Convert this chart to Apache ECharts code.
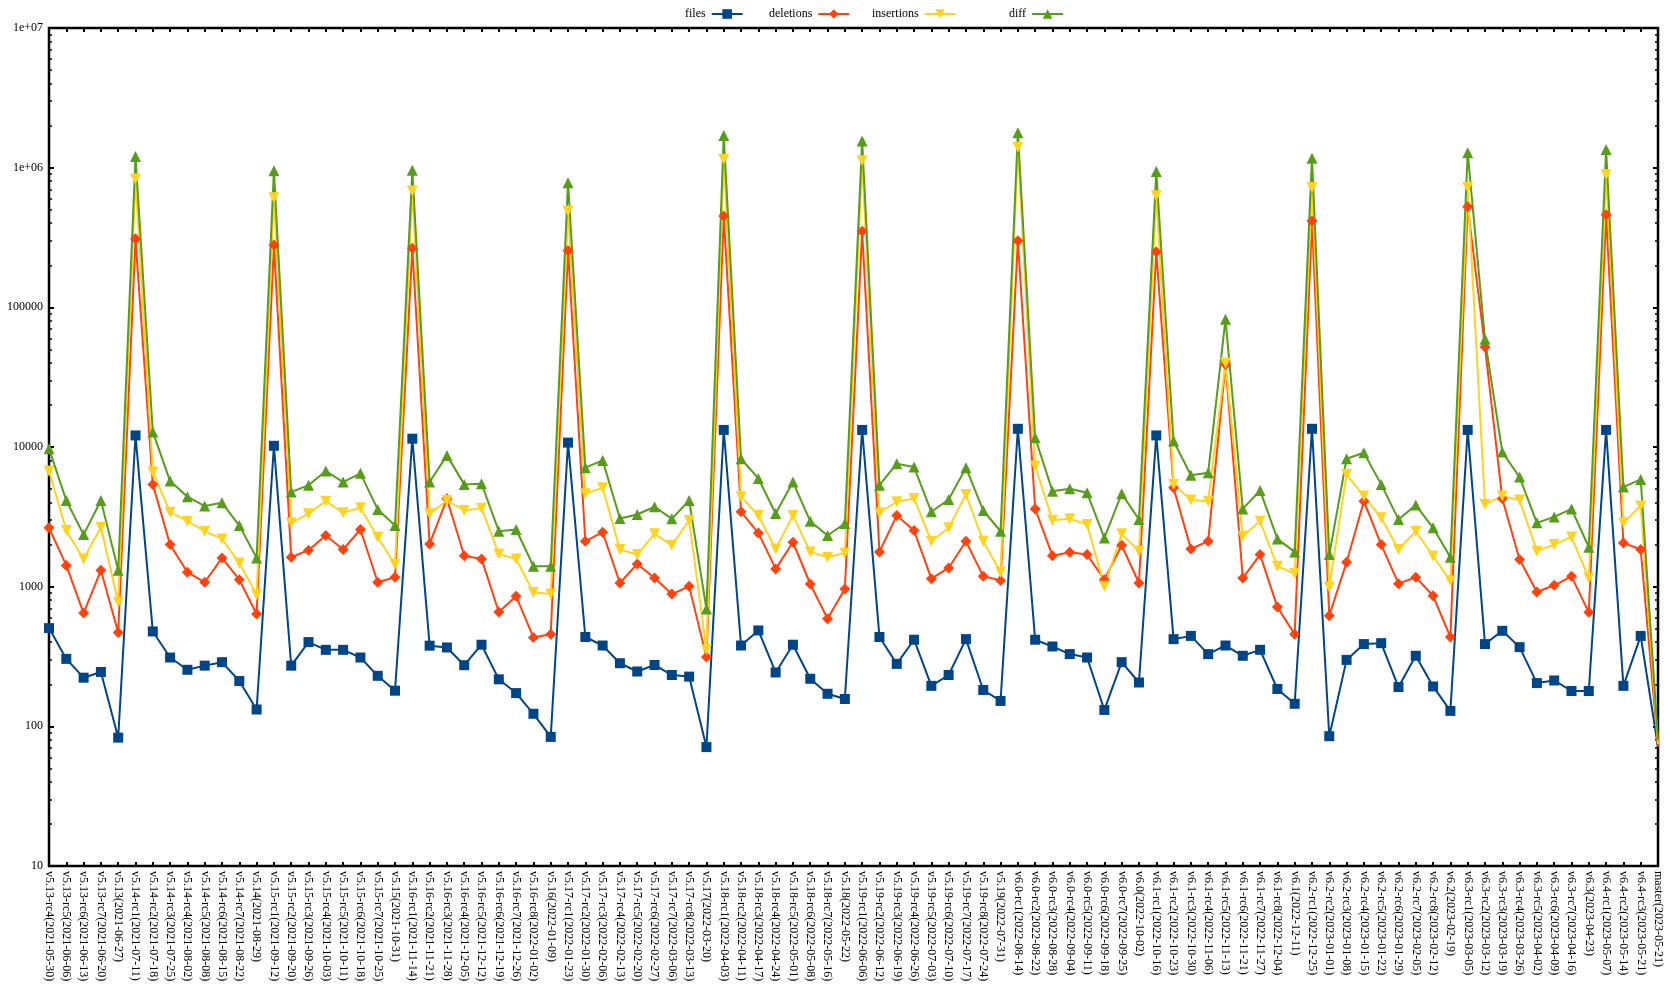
<!DOCTYPE html>
<html>
<head>
<meta charset="utf-8">
<script src="https://cdn.jsdelivr.net/npm/echarts@6/dist/echarts.min.js"></script>
<style>html,body{margin:0;padding:0;background:#fff;}#c{width:1670px;height:994px;}</style>
</head>
<body>
<div id="c"></div>
<script>
const categories = [
"v5.13-rc4(2021-05-30)","v5.13-rc5(2021-06-06)","v5.13-rc6(2021-06-13)","v5.13-rc7(2021-06-20)","v5.13(2021-06-27)",
"v5.14-rc1(2021-07-11)","v5.14-rc2(2021-07-18)","v5.14-rc3(2021-07-25)","v5.14-rc4(2021-08-02)","v5.14-rc5(2021-08-08)",
"v5.14-rc6(2021-08-15)","v5.14-rc7(2021-08-22)","v5.14(2021-08-29)","v5.15-rc1(2021-09-12)","v5.15-rc2(2021-09-20)",
"v5.15-rc3(2021-09-26)","v5.15-rc4(2021-10-03)","v5.15-rc5(2021-10-11)","v5.15-rc6(2021-10-18)","v5.15-rc7(2021-10-25)",
"v5.15(2021-10-31)","v5.16-rc1(2021-11-14)","v5.16-rc2(2021-11-21)","v5.16-rc3(2021-11-28)","v5.16-rc4(2021-12-05)",
"v5.16-rc5(2021-12-12)","v5.16-rc6(2021-12-19)","v5.16-rc7(2021-12-26)","v5.16-rc8(2022-01-02)","v5.16(2022-01-09)",
"v5.17-rc1(2022-01-23)","v5.17-rc2(2022-01-30)","v5.17-rc3(2022-02-06)","v5.17-rc4(2022-02-13)","v5.17-rc5(2022-02-20)",
"v5.17-rc6(2022-02-27)","v5.17-rc7(2022-03-06)","v5.17-rc8(2022-03-13)","v5.17(2022-03-20)","v5.18-rc1(2022-04-03)",
"v5.18-rc2(2022-04-11)","v5.18-rc3(2022-04-17)","v5.18-rc4(2022-04-24)","v5.18-rc5(2022-05-01)","v5.18-rc6(2022-05-08)",
"v5.18-rc7(2022-05-16)","v5.18(2022-05-22)","v5.19-rc1(2022-06-06)","v5.19-rc2(2022-06-12)","v5.19-rc3(2022-06-19)",
"v5.19-rc4(2022-06-26)","v5.19-rc5(2022-07-03)","v5.19-rc6(2022-07-10)","v5.19-rc7(2022-07-17)","v5.19-rc8(2022-07-24)",
"v5.19(2022-07-31)","v6.0-rc1(2022-08-14)","v6.0-rc2(2022-08-22)","v6.0-rc3(2022-08-28)","v6.0-rc4(2022-09-04)",
"v6.0-rc5(2022-09-11)","v6.0-rc6(2022-09-18)","v6.0-rc7(2022-09-25)","v6.0(2022-10-02)","v6.1-rc1(2022-10-16)",
"v6.1-rc2(2022-10-23)","v6.1-rc3(2022-10-30)","v6.1-rc4(2022-11-06)","v6.1-rc5(2022-11-13)","v6.1-rc6(2022-11-21)",
"v6.1-rc7(2022-11-27)","v6.1-rc8(2022-12-04)","v6.1(2022-12-11)","v6.2-rc1(2022-12-25)","v6.2-rc2(2023-01-01)",
"v6.2-rc3(2023-01-08)","v6.2-rc4(2023-01-15)","v6.2-rc5(2023-01-22)","v6.2-rc6(2023-01-29)","v6.2-rc7(2023-02-05)",
"v6.2-rc8(2023-02-12)","v6.2(2023-02-19)","v6.3-rc1(2023-03-05)","v6.3-rc2(2023-03-12)","v6.3-rc3(2023-03-19)",
"v6.3-rc4(2023-03-26)","v6.3-rc5(2023-04-02)","v6.3-rc6(2023-04-09)","v6.3-rc7(2023-04-16)","v6.3(2023-04-23)",
"v6.4-rc1(2023-05-07)","v6.4-rc2(2023-05-14)","v6.4-rc3(2023-05-21)","master(2023-05-21)"
];

const files = [505,304,223,245,83,12100,478,311,254,272,288,211,132,10200,272,401,353,353,311,230,
180,11470,378,367,274,384,217,173,123,84,10750,436,379,283,247,275,233,227,71,13250,
379,486,243,384,219,171,157,13250,436,280,417,195,233,421,182,152,13500,417,373,329,
311,131,288,206,12100,421,444,329,379,320,353,185,145,13500,85,299,388,394,191,320,
193,129,13250,388,483,369,204,213,179,179,13250,195,444,71];

const deletions = [2640,1420,647,1310,470,310000,5400,2000,1270,1075,1607,1122,637,280000,1625,1825,2324,1845,2566,1075,
1167,265000,2022,4255,1667,1580,658,853,433,457,255000,2113,2454,1062,1455,1153,885,1005,313,450000,
3436,2426,1340,2080,1045,589,962,350000,1774,3236,2523,1141,1361,2113,1186,1109,300000,3605,1667,1762,
1697,1122,1980,1062,250000,5110,1864,2113,39000,1153,1697,714,457,415000,620,1496,4095,2000,1051,1167,
861,436,525000,52000,4255,1563,916,1023,1186,655,460000,2057,1845,72];

const insertions = [6730,2523,1580,2667,773,830000,6620,3415,2942,2493,2198,1479,877,610000,2864,3325,4095,3384,3672,2259,
1440,680000,3325,4140,3510,3650,1713,1580,910,885,490000,4625,5110,1845,1697,2388,1980,2977,353,1150000,
4405,3236,1864,3236,1774,1625,1745,1120000,3384,4055,4285,2113,2640,4570,2113,1268,1400000,7310,2993,3060,
2786,1005,2388,1795,630000,5400,4170,4095,40000,2296,2942,1400,1240,720000,995,6370,4450,3112,1845,2493,
1652,1104,720000,3880,4450,4170,1795,2000,2270,1153,890000,2864,3775,75];

const diff = [9730,4140,2360,4140,1310,1200000,12820,5700,4405,3775,3985,2740,1607,950000,4757,5330,6730,5610,6475,3574,
2740,960000,5610,8710,5400,5460,2493,2566,1400,1400,780000,7110,8020,3077,3286,3733,3060,4140,692,1700000,
8240,5955,3340,5610,2942,2324,2832,1550000,5330,7590,7180,3436,4206,7110,3510,2493,1780000,11660,4830,5020,
4700,2234,4625,3030,940000,11040,6270,6550,82000,3605,4885,2198,1774,1170000,1697,8240,9100,5400,3030,3836,
2640,1625,1280000,59000,9210,6090,2864,3160,3605,1915,1350000,5165,5860,80];

const FONT = "Liberation Serif";
const chart = echarts.init(document.getElementById('c'), null, {renderer: 'canvas'});

function yLabel(v) {
  if (v >= 1e6) {
    const e = Math.round(Math.log10(v));
    return '1e+' + (e < 10 ? '0' + e : e);
  }
  return String(Math.round(v));
}

const tickStyle = {color: '#000', width: 2};
const xBase = {
  type: 'category', data: categories, boundaryGap: false,
  axisLine: {show: false},
  axisTick: {show: true, inside: true, length: 4, lineStyle: tickStyle, interval: 0},
  splitLine: {show: false}
};
const yBase = {
  type: 'log', logBase: 10, min: 10, max: 10000000,
  axisLine: {show: false},
  axisTick: {show: true, inside: true, length: 5, lineStyle: tickStyle},
  minorTick: {show: true, splitNumber: 9, length: 3, lineStyle: {color: '#000', width: 1.5}},
  splitLine: {show: false},
  minorSplitLine: {show: false}
};

function mk(name, arr, color, symbol, size, rotate) {
  const data = arr.map(function (v, i) {
    return i === arr.length - 1 ? {value: v, symbol: 'none'} : v;
  });
  return {
    name: name, type: 'line', data: data, xAxisIndex: 0, yAxisIndex: 0,
    symbol: symbol, symbolSize: size, symbolRotate: rotate || 0, showAllSymbol: true,
    lineStyle: {color: color, width: 2}, itemStyle: {color: color},
    animation: false, emphasis: {disabled: true}
  };
}

function lg(name, left) {
  return {
    top: 3, left: left, align: 'right', itemWidth: 31, itemHeight: 12, itemGap: 0,
    textStyle: {fontFamily: FONT, fontSize: 12, color: '#000', padding: [0, 1, 0, 0]},
    data: [name]
  };
}

chart.setOption({
  animation: false,
  backgroundColor: '#fff',
  textStyle: {fontFamily: FONT},
  legend: [lg('files', 680), lg('deletions', 764), lg('insertions', 867), lg('diff', 1004)],
  grid: {left: 49, right: 12, top: 28, bottom: 128, show: true, borderColor: '#000', borderWidth: 2.5, containLabel: false},
  xAxis: [
    Object.assign({}, xBase, {position: 'bottom',
      axisLabel: {show: true, interval: 0, rotate: -90, fontFamily: FONT, fontSize: 12, color: '#000', margin: 5}}),
    Object.assign({}, xBase, {position: 'top', axisLabel: {show: false}})
  ],
  yAxis: [
    Object.assign({}, yBase, {position: 'left',
      axisLabel: {show: true, formatter: yLabel, fontFamily: FONT, fontSize: 12, color: '#000', margin: 6}}),
    Object.assign({}, yBase, {position: 'right', axisLabel: {show: false}})
  ],
  series: [
    mk('files', files, '#004586', 'rect', 10),
    mk('deletions', deletions, '#ff420e', 'diamond', 11),
    mk('insertions', insertions, '#ffd320', 'triangle', 11, 180),
    mk('diff', diff, '#579d1c', 'triangle', 11)
  ]
});
</script>
</body>
</html>
